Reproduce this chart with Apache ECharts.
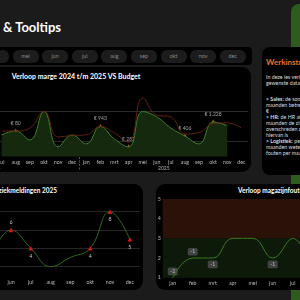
<!DOCTYPE html>
<html>
<head>
<meta charset="utf-8">
<script src="https://cdn.jsdelivr.net/npm/echarts@6/dist/echarts.min.js"></script>
<style>
html, body { margin: 0; padding: 0; width: 300px; height: 300px; overflow: hidden; background: #1b1b1b; font-family: Lato, 'Noto Sans', sans-serif; }
.abs { position: absolute; }
.panel { position: absolute; background: #000; border-radius: 9px; }
.ttl { position: absolute; color: #fff; font-weight: bold; white-space: nowrap; }
.txt { position: absolute; color: #ddd; font-size: 5.3px; line-height: 6px; white-space: nowrap; }
.pill { position: absolute; top: 50px; width: 26px; height: 12.5px; line-height: 12.5px; border-radius: 6px; background: #1c1c1c; color: #8a8a8a; font-size: 5.3px; text-align: center; }
#chart { position: absolute; left: 0; top: 0; width: 300px; height: 300px; z-index: 5; }
</style>
</head>
<body>
<div class="abs" style="left:291px;top:4px;width:40px;height:300px;background:#2e5c1c;border-radius:8px 0 0 0"></div>
<div class="ttl" style="left:3px;top:19px;font-size:13px">&amp; Tooltips</div>

<div id="slicer" class="panel" style="left:-130px;top:47px;width:382px;height:18px;border-radius:4px"></div>

<div class="panel" style="left:-110px;top:67px;width:361px;height:105px"></div>
<div class="ttl" style="left:-124px;width:400px;text-align:center;top:72px;font-size:7px;line-height:8px">Verloop marge 2024 t/m 2025 VS Budget</div>

<div class="panel" style="left:262px;top:47px;width:60px;height:128px;border-radius:8px"></div>
<div class="ttl" style="left:266px;top:57px;font-size:8px;line-height:10px;color:#e8702e">Werkinstructie</div>
<div class="txt" style="left:266px;top:73.5px">In deze les verken je de<br>gewenste data-inzichten.</div>
<div class="txt" style="left:266px;top:96px"><b>&gt; Sales:</b> de som van de<br>maanden betreft de marge in<br>€<br><b>&gt; HR:</b> de HR afdeling wil per<br>maanden de ziekmeldingen<br>overschreden zien; de norm<br>hiervan is<br><b>&gt; Logistiek:</b> per<br>maanden weten hoeveel<br>fouten per maand</div>

<div class="panel" style="left:-120px;top:183.5px;width:263.3px;height:106.5px"></div>
<div class="ttl" style="right:243px;top:187px;font-size:6.5px;line-height:8px">Verloop ziekmeldingen 2025</div>

<div class="panel" style="left:156px;top:184.3px;width:170px;height:105.7px"></div>
<div class="ttl" style="left:238px;top:187px;font-size:6.5px;line-height:8px">Verloop magazijnfouten 2025</div>

<div id="chart"></div>
<script>
var maanden = ['jan', 'feb', 'mrt', 'apr', 'mei', 'jun', 'jul', 'aug', 'sep', 'okt', 'nov', 'dec'];

// marge 2024 t/m 2025
var margeMaanden = maanden.concat(maanden);
var margeJaren = ['2024', '2025'];
var margeWerkelijk = [null, null, null, null, null, null,
  220, 350, 50, 1000, -180, 220,
  -80, 500, 80, -180, 1000, 820, 450, 180, -80, 650, 530, null];
var margeBudget = [null, null, null, null, null, null,
  350, 350, 450, 1000, 150, 200,
  220, 500, 280, -20, 1450, 880, 820, 250, 300, 600, 620, 450];
var margeVerschil = [null, null, null, null, null, null,
  null, 80, null, null, null, null,
  null, 943, null, 282, null, null, null, 406, null, 1228, null, null];

// ziekmeldingen 2025
var ziekmeldingen = [null, null, null, null, 3, 6, 4, 2, 3, 4, 8, 5];

// magazijnfouten 2025
var magazijnfouten = [1, 2, 2, 3, 3, 2, 3, 1, null, null, null, null];
var magazijnVerschil = [-2, -1, -1, null, null, -1, null, null, null, null, null, null];

// slicer
maanden.forEach(function (m, i) {
  var d = document.createElement('div');
  d.className = 'pill';
  d.style.left = (25.5 + (i - 4) * 29.6 - 13) + 'px';
  d.textContent = m;
  document.body.appendChild(d);
});

function euro(v) {
  return '€ ' + String(v).replace(/\B(?=(\d{3})+(?!\d))/g, '.');
}

var chart = echarts.init(document.getElementById('chart'));

var none = 'rgba(0,0,0,0)';

var option = {
  backgroundColor: 'transparent',
  animation: false,
  textStyle: { fontFamily: 'Lato' },
  grid: [
    { left: -90, top: 81.5, width: 338.4, height: 75, outerBoundsMode: 'none', containLabel: false },
    { left: -97.9, top: 193.3, width: 237.6, height: 82.5, outerBoundsMode: 'none', containLabel: false },
    { left: 162.7, top: 199, width: 240, height: 78.7, outerBoundsMode: 'none', containLabel: false }
  ],
  xAxis: [
    {
      type: 'category', gridIndex: 0, data: margeMaanden,
      axisLine: { show: false }, axisTick: { show: false },
      axisLabel: { color: '#b8b8b8', fontSize: 5.3, margin: 3, interval: 0 }
    },
    {
      type: 'category', gridIndex: 0, data: margeJaren, position: 'bottom', offset: 6,
      axisLine: { show: false }, axisTick: { show: false },
      axisLabel: { color: '#b8b8b8', fontSize: 5, margin: 3 }
    },
    {
      type: 'category', gridIndex: 1, data: maanden,
      axisLine: { show: false }, axisTick: { show: false },
      axisLabel: { color: '#b8b8b8', fontSize: 5.3, margin: 4, interval: 0 }
    },
    {
      type: 'category', gridIndex: 2, data: maanden,
      axisLine: { show: false }, axisTick: { show: false },
      axisLabel: { color: '#b8b8b8', fontSize: 5.3, margin: 3, interval: 0 }
    }
  ],
  yAxis: [
    {
      type: 'value', gridIndex: 0, min: -500, max: 2000, interval: 500,
      axisLabel: { show: false }, axisLine: { show: false }, axisTick: { show: false },
      splitLine: { lineStyle: { color: [none, '#2c2c2c', none, '#2c2c2c', none, none], width: 1 } }
    },
    {
      type: 'value', gridIndex: 1, min: 1, max: 10, splitNumber: 4,
      axisLabel: { show: false }, axisLine: { show: false }, axisTick: { show: false },
      splitLine: { showMinLine: false, showMaxLine: false, lineStyle: { color: '#262626', width: 1 } }
    },
    {
      type: 'value', gridIndex: 2, min: 1, max: 5, interval: 1,
      axisLine: { show: false }, axisTick: { show: false },
      axisLabel: { color: '#b8b8b8', fontSize: 5.3, margin: 2 },
      splitLine: { lineStyle: { color: 'rgba(255,255,255,0.04)', width: 1 } }
    }
  ],
  series: [
    {
      name: 'Marge', type: 'line', xAxisIndex: 0, yAxisIndex: 0,
      data: margeWerkelijk, smooth: 0.45, symbol: 'none',
      lineStyle: { color: '#3f7f22', width: 1 },
      areaStyle: { color: '#15290e', opacity: 1, origin: 'start' }
    },
    {
      name: 'Budget', type: 'line', xAxisIndex: 0, yAxisIndex: 0,
      data: margeBudget, smooth: 0.45, symbol: 'none',
      lineStyle: { color: '#6b2413', width: 0.9 }
    },
    {
      name: 'Verschil', type: 'scatter', xAxisIndex: 0, yAxisIndex: 0,
      symbol: 'triangle', symbolSize: 5,
      itemStyle: { color: '#f07a2a' },
      data: margeVerschil.map(function (v, i) {
        return v == null ? null : { value: [i, margeWerkelijk[i]], verschil: v };
      }).filter(function (d) { return d; }),
      label: {
        show: true, position: 'top', distance: 3,
        color: '#c8c8c8', fontSize: 5,
        formatter: function (p) { return euro(p.data.verschil); }
      }
    },
    {
      name: 'Ziekmeldingen', type: 'line', xAxisIndex: 2, yAxisIndex: 1,
      smooth: 0.45, symbol: 'triangle',
      lineStyle: { color: '#2f6a1b', width: 1 },
      itemStyle: { color: '#e4141b' },
      data: ziekmeldingen.map(function (v, i) {
        var flag = v != null && v >= 4;
        return {
          value: v,
          symbolSize: flag ? 4.5 : 0,
          label: { show: flag, position: i === 5 ? 'top' : 'bottom', distance: 3, color: '#c8c8c8', fontSize: 5.3 }
        };
      })
    },
    {
      name: 'Magazijnfouten', type: 'line', xAxisIndex: 3, yAxisIndex: 2,
      data: magazijnfouten, smooth: 0.45, symbol: 'none',
      lineStyle: { color: '#3a7a20', width: 1 },
      markArea: {
        silent: true,
        data: [
          [{ yAxis: 3, itemStyle: { color: '#2a1208' } }, { yAxis: 5 }],
          [{ yAxis: 1, itemStyle: { color: '#0d1909' } }, { yAxis: 3 }]
        ]
      }
    },
    {
      name: 'Afwijking', type: 'scatter', xAxisIndex: 3, yAxisIndex: 2,
      symbolSize: 0,
      data: magazijnVerschil.map(function (v, i) {
        return v == null ? null : {
          value: [i, magazijnfouten[i]], verschil: v,
          label: { position: (i === 2 || i === 5) ? 'bottom' : 'top' }
        };
      }).filter(function (d) { return d; }),
      label: {
        show: true, distance: 2.5, color: '#dcdcdc', fontSize: 5,
        backgroundColor: '#4e4e4e', borderRadius: 1.5, padding: [1.3, 2.6],
        formatter: function (p) { return String(p.data.verschil); }
      }
    }
  ]
};

chart.setOption(option);

// jaarscheiding tussen dec 2024 en jan 2025
var xa = chart.convertToPixel({ xAxisIndex: 0 }, 11);
var xb = chart.convertToPixel({ xAxisIndex: 0 }, 12);
var sx = Math.round((xa + xb) / 2) + 0.5;
chart.setOption({
  graphic: [{
    type: 'line', silent: true,
    shape: { x1: sx, y1: 150, x2: sx, y2: 171 },
    style: { stroke: '#666', lineWidth: 0.8, lineDash: [2, 1.5] }
  }]
});
</script>
</body>
</html>
